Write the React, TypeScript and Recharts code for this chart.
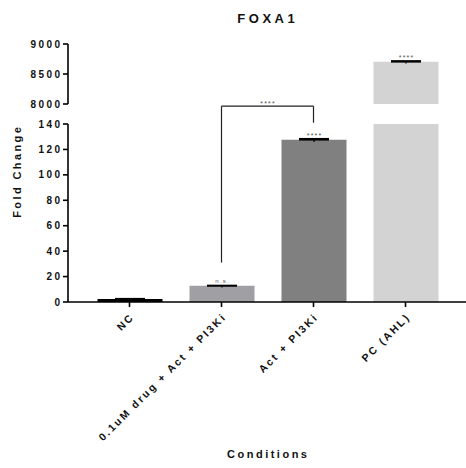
import React from 'react';
import { BarChart, Bar, XAxis, YAxis, ErrorBar, LabelList, ReferenceLine, Cell } from 'recharts';

const categories = ['NC', '0.1uM drug + Act + PI3Ki', 'Act + PI3Ki', 'PC (AHL)'];
const means = [2.3, 12.7, 127.6, 8703];
const errUp = [0.3, 0.3, 0.8, 15];
const errDown = [0.3, 1.3, 1.8, 27];
const sigLabels = ['', 'n.s.', '****', '****'];
const barColors = ['#000000', '#a09fa4', '#808080', '#d3d3d3'];
const lowerTicks = [0, 20, 40, 60, 80, 100, 120, 140];
const upperTicks = [8000, 8500, 9000];
const lowerDomain = [0, 140];
const upperDomain = [8000, 9000];
const bracketFrom = categories[1];
const bracketTo = categories[2];
const bracketLeftY = 31;
const bracketTopY = 154;
const bracketRightY = 141;
const bracketLabel = '****';
const title = 'FOXA1';
const yTitle = 'Fold Change';
const xTitle = 'Conditions';

const FONT = '"Liberation Sans", Arial, Helvetica, sans-serif';
const W = 466;
const H = 468;

const lowerData = categories.map((name, i) => {
  const broken = means[i] > lowerDomain[1];
  return {
    name,
    value: broken ? lowerDomain[1] : means[i],
    up: broken ? undefined : [0, errUp[i]],
    down: broken ? undefined : [errDown[i], 0],
    sig: broken ? '' : sigLabels[i],
  };
});

const upperData = categories.map((name, i) => {
  const inUpper = means[i] >= upperDomain[0];
  return {
    name,
    value: inUpper ? means[i] : null,
    up: inUpper ? [0, errUp[i]] : undefined,
    down: inUpper ? [errDown[i], 0] : undefined,
    sig: inUpper ? sigLabels[i] : '',
  };
});

const Y_LS = 2.4;
const YTick = (props: any) => {
  const { x, y, payload } = props;
  return (
    <text
      x={x + 1.4}
      y={y}
      dy="0.36em"
      textAnchor="end"
      fontSize={10}
      fontWeight="bold"
      fontFamily={FONT}
      fill="#111"
      style={{ letterSpacing: Y_LS }}
    >
      {payload.value}
    </text>
  );
};

const X_LS = 2.2;
const XTick = (props: any) => {
  const { x, y, payload } = props;
  return (
    <g transform={`translate(${x + 5.5},${y + 8.5})`}>
      <text
        x={0}
        y={0}
        transform="rotate(-45)"
        textAnchor="end"
        fontSize={10.5}
        fontWeight="bold"
        fontFamily={FONT}
        fill="#111"
        style={{ letterSpacing: X_LS }}
      >
        {payload.value}
      </text>
    </g>
  );
};

const SigLabel = (props: any) => {
  const { x, y, width, value } = props;
  if (!value) return null;
  const isNs = value === 'n.s.';
  return (
    <text
      x={x + width / 2 + 0.6}
      y={y - (isNs ? 2.5 : 2)}
      textAnchor="middle"
      fontSize={isNs ? 6 : 7}
      fontFamily={FONT}
      fill="#555"
      style={{ letterSpacing: 1.2 }}
    >
      {value}
    </text>
  );
};

const BracketLabel = (props: any) => {
  const { viewBox } = props;
  const cx = viewBox.x + viewBox.width / 2;
  return (
    <text
      x={cx + 0.6}
      y={viewBox.y - 0.5}
      textAnchor="middle"
      fontSize={7}
      fontFamily={FONT}
      fill="#555"
      style={{ letterSpacing: 1.2 }}
    >
      {bracketLabel}
    </text>
  );
};

const xPadding = { left: 15.5, right: 14.5 };
const AXIS_STROKE = { stroke: '#000', strokeWidth: 1.6 };

export default function App() {
  return (
    <div style={{ position: 'absolute', left: 0, top: 0, width: W, height: H, background: '#fff' }}>
      <div style={{ position: 'absolute', left: 0, top: 0 }}>
        <BarChart
          width={W}
          height={H}
          data={lowerData}
          margin={{ top: 124, right: 0, bottom: 0, left: 0 }}
          barSize={65}
        >
          <XAxis
            dataKey="name"
            height={166}
            padding={xPadding}
            interval={0}
            tick={<XTick />}
            tickSize={5}
            axisLine={AXIS_STROKE}
            tickLine={AXIS_STROKE}
          />
          <YAxis
            width={68}
            domain={lowerDomain}
            ticks={lowerTicks}
            allowDataOverflow
            interval={0}
            tick={<YTick />}
            tickSize={5}
            axisLine={AXIS_STROKE}
            tickLine={AXIS_STROKE}
          />
          <Bar dataKey="value" isAnimationActive={false}>
            {lowerData.map((d, i) => (
              <Cell key={d.name} fill={barColors[i]} />
            ))}
            <ErrorBar dataKey="down" width={0} stroke="#000" strokeWidth={1.2} />
            <ErrorBar dataKey="up" width={15} stroke="#000" strokeWidth={1.6} />
            <LabelList dataKey="sig" content={<SigLabel />} />
          </Bar>
          <ReferenceLine
            segment={[{ x: bracketFrom, y: bracketLeftY }, { x: bracketFrom, y: bracketTopY }]}
            ifOverflow="visible"
            stroke="#222"
            strokeWidth={1.2}
          />
          <ReferenceLine
            segment={[{ x: bracketFrom, y: bracketTopY }, { x: bracketTo, y: bracketTopY }]}
            ifOverflow="visible"
            stroke="#222"
            strokeWidth={1.2}
            label={<BracketLabel />}
          />
          <ReferenceLine
            segment={[{ x: bracketTo, y: bracketTopY }, { x: bracketTo, y: bracketRightY }]}
            ifOverflow="visible"
            stroke="#222"
            strokeWidth={1.2}
          />
        </BarChart>
      </div>
      <div style={{ position: 'absolute', left: 0, top: 0 }}>
        <BarChart
          width={W}
          height={110}
          data={upperData}
          margin={{ top: 44, right: 0, bottom: 6, left: 0 }}
          barSize={65}
        >
          <XAxis dataKey="name" hide height={0} padding={xPadding} />
          <YAxis
            width={68}
            domain={upperDomain}
            ticks={upperTicks}
            allowDataOverflow
            interval={0}
            tick={<YTick />}
            tickSize={5}
            axisLine={AXIS_STROKE}
            tickLine={AXIS_STROKE}
          />
          <Bar dataKey="value" isAnimationActive={false}>
            {upperData.map((d, i) => (
              <Cell key={d.name} fill={barColors[i]} />
            ))}
            <ErrorBar dataKey="down" width={0} stroke="#000" strokeWidth={1.2} />
            <ErrorBar dataKey="up" width={15} stroke="#000" strokeWidth={1.6} />
            <LabelList dataKey="sig" content={<SigLabel />} />
          </Bar>
        </BarChart>
      </div>
      <svg
        width={W}
        height={H}
        style={{ position: 'absolute', left: 0, top: 0, pointerEvents: 'none' }}
      >
        <text
          x={266 + 1.75}
          y={22.7}
          textAnchor="middle"
          fontSize={13}
          fontWeight="bold"
          fontFamily={FONT}
          fill="#111"
          style={{ letterSpacing: 3.5 }}
        >
          {title}
        </text>
        <text
          x={0}
          y={0}
          transform={`translate(21,171.3) rotate(-90)`}
          textAnchor="middle"
          fontSize={11}
          fontWeight="bold"
          fontFamily={FONT}
          fill="#111"
          style={{ letterSpacing: 2.4 }}
        >
          {yTitle}
        </text>
        <text
          x={267 + 1.25}
          y={458}
          textAnchor="middle"
          fontSize={11}
          fontWeight="bold"
          fontFamily={FONT}
          fill="#111"
          style={{ letterSpacing: 2.5 }}
        >
          {xTitle}
        </text>
      </svg>
    </div>
  );
}
